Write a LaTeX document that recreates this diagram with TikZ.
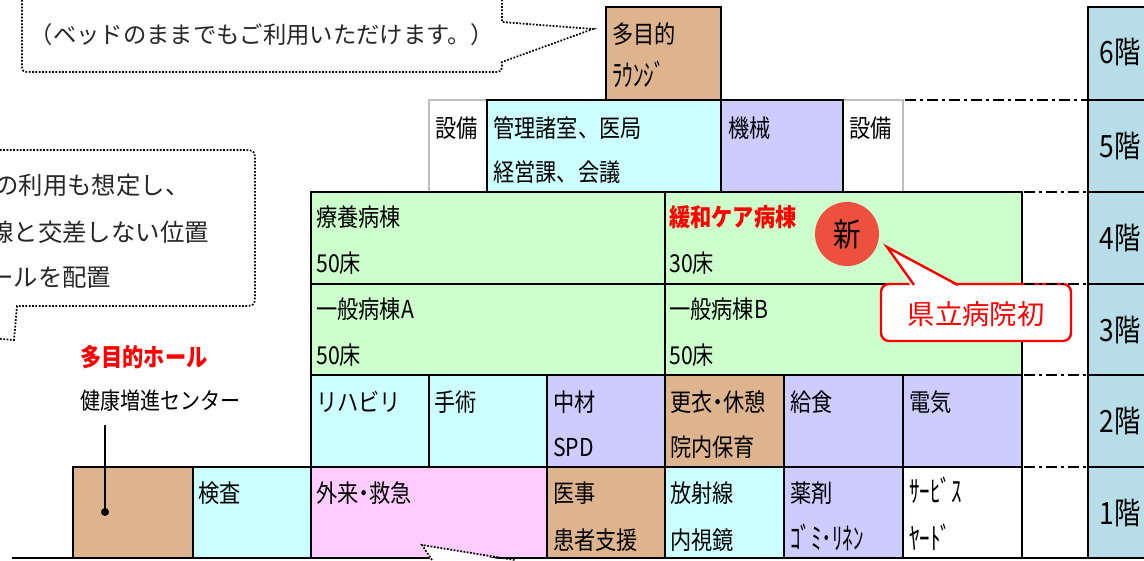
\documentclass[tikz,border=0pt]{standalone}
\usepackage{fontspec}
\newfontfamily\jp[FakeStretch=0.86]{Noto Sans CJK JP}
\newfontfamily\jph[FakeStretch=0.7]{Noto Sans CJK JP}
\newfontfamily\jpn{Noto Sans CJK JP}
\definecolor{tanc}{HTML}{DDB48E}
\definecolor{cyc}{HTML}{CCFFFF}
\definecolor{lavc}{HTML}{CCCCFF}
\definecolor{grnc}{HTML}{CCFFCC}
\definecolor{pnkc}{HTML}{FFCCFF}
\definecolor{flrc}{HTML}{B7DEE8}
\definecolor{newred}{HTML}{EE5040}
\definecolor{gryc}{HTML}{BFBFBF}
\newcommand\ndot{\hspace{-0.22em}・\hspace{-0.22em}}
\begin{document}
\begin{tikzpicture}[x=0.75pt,y=-0.75pt,
  cellline/.style={draw=black,line width=1.8pt},
  lbl/.style={anchor=base west,inner sep=0pt,font=\jp\fontsize{18.5}{20}\selectfont},
  hlbl/.style={anchor=base west,inner sep=0pt,font=\jph\fontsize{22.5}{24}\selectfont},
  redlbl/.style={lbl,text=red,font=\jp\bfseries\fontsize{18.5}{20}\selectfont},
  floorlbl/.style={anchor=base,inner sep=0pt,font=\jp\fontsize{23}{24}\selectfont},
  dashdot/.style={line width=1.8pt,dash pattern=on 8pt off 3pt on 2.5pt off 3pt},
  dots/.style={line width=1.3pt,dash pattern=on 1.3pt off 1.2pt},
  callt/.style={anchor=west,inner sep=0pt,font=\jpn\fontsize{18.3}{20}\selectfont,text=black!85}]
\useasboundingbox (0,0) rectangle (1144,560);
\clip (0,0) rectangle (1144,560);

% ---------- floor label column ----------
\foreach \ya/\yb in {7/100,100/192,192/284,284/375,375/467,467/558}
  \filldraw[cellline,fill=flrc] (1088,\ya) rectangle (1170,\yb);
\node[floorlbl] (f6) at (1120,64) {6階};
\node[floorlbl] (f5) at (1120,157) {5階};
\node[floorlbl] (f4) at (1120,249) {4階};
\node[floorlbl] (f3) at (1120,341) {3階};
\node[floorlbl] (f2) at (1120,432) {2階};
\node[floorlbl] (f1) at (1120,524) {1階};

% ---------- 6F ----------
\filldraw[cellline,fill=tanc] (606,7) rectangle (721,100);
\node[lbl] (l6a) at (612,44) {多目的};
\node[hlbl] (l6b) at (612,86) {ﾗｳﾝｼﾞ};

% ---------- 5F ----------
\draw[gryc,line width=1.6pt] (429,192) -- (429,100) -- (487,100);
\draw[gryc,line width=1.6pt] (843,100) -- (903,100) -- (903,192);
\filldraw[cellline,fill=cyc] (487,100) rectangle (721,192);
\filldraw[cellline,fill=lavc] (721,100) rectangle (843,192);
\node[lbl] (l5a) at (435,137) {設備};
\node[lbl] (l5b) at (493,137) {管理諸室、医局};
\node[lbl] (l5c) at (493,181) {経営課、会議};
\node[lbl] (l5d) at (728,137) {機械};
\node[lbl] (l5e) at (849,137) {設備};

% ---------- 4F / 3F ----------
\filldraw[cellline,fill=grnc] (311,192) rectangle (665,284);
\filldraw[cellline,fill=grnc] (665,192) rectangle (1022,284);
\filldraw[cellline,fill=grnc] (311,284) rectangle (665,375);
\filldraw[cellline,fill=grnc] (665,284) rectangle (1022,375);
\node[lbl] (l4a) at (316,226) {療養病棟};
\node[lbl] (l4b) at (316,272) {50床};
\node[redlbl] (l4c) at (669,226) {緩和ケア病棟};
\node[lbl] (l4d) at (669,272) {30床};
\node[lbl] (l3a) at (316,318) {一般病棟A};
\node[lbl] (l3b) at (316,364) {50床};
\node[lbl] (l3c) at (669,318) {一般病棟B};
\node[lbl] (l3d) at (669,364) {50床};

% ---------- 2F ----------
\filldraw[cellline,fill=cyc]  (311,375) rectangle (429,467);
\filldraw[cellline,fill=cyc]  (429,375) rectangle (547,467);
\filldraw[cellline,fill=lavc] (547,375) rectangle (665,467);
\filldraw[cellline,fill=tanc] (665,375) rectangle (784,467);
\filldraw[cellline,fill=lavc] (784,375) rectangle (903,467);
\filldraw[cellline,fill=lavc] (903,375) rectangle (1022,467);
\node[lbl] (l2a) at (316,411) {リハビリ};
\node[lbl] (l2b) at (434,411) {手術};
\node[lbl] (l2c) at (553,411) {中材};
\node[lbl] (l2d) at (553,456) {SPD};
\node[lbl] (l2e) at (670,411) {更衣\ndot 休憩};
\node[lbl] (l2f) at (670,456) {院内保育};
\node[lbl] (l2g) at (790,411) {給食};
\node[lbl] (l2h) at (909,411) {電気};

% ---------- 1F ----------
\filldraw[cellline,fill=tanc] (73,467) rectangle (193,558);
\filldraw[cellline,fill=cyc]  (193,467) rectangle (311,558);
\filldraw[cellline,fill=pnkc] (311,467) rectangle (547,558);
\filldraw[cellline,fill=tanc] (547,467) rectangle (665,558);
\filldraw[cellline,fill=cyc]  (665,467) rectangle (784,558);
\filldraw[cellline,fill=lavc] (784,467) rectangle (903,558);
\filldraw[cellline,fill=white] (903,467) rectangle (1022,558);
\draw[cellline] (1022,375) -- (1022,558);
\node[lbl] (l1a) at (198,502) {検査};
\node[lbl] (l1b) at (316,502) {外来\ndot 救急};
\node[lbl] (l1c) at (553,502) {医事};
\node[lbl] (l1d) at (553,549) {患者支援};
\node[lbl] (l1e) at (670,502) {放射線};
\node[lbl] (l1f) at (670,549) {内視鏡};
\node[lbl] (l1g) at (790,502) {薬剤};
\node[hlbl] (l1h) at (790,549) {ｺﾞﾐ･ﾘﾈﾝ};
\node[hlbl] (l1i) at (909,502) {ｻｰﾋﾞｽ};
\node[hlbl] (l1j) at (909,549) {ﾔｰﾄﾞ};

% ground line
\draw[line width=2.2pt] (12,558) -- (1144,558);

% ---------- 新 and callout ----------
\node[circle,fill=newred,minimum size=48pt,inner sep=0pt,font=\jp\fontsize{24}{26}\selectfont] (new) at (847,234) {新};
\draw[red,line width=1.8pt,fill=white,rounded corners=6pt] (881,284) rectangle (1071,341);
\node[inner sep=0pt,text=red,font=\jpn\fontsize{20.5}{22}\selectfont] (kenritsu) at (976,314) {県立病院初};
\fill[white] (912,288) -- (887,247) -- (960,288) -- cycle;
\draw[red,line width=1.8pt,line join=miter] (914,285) -- (887,247) -- (958,285);

% dash-dot floor lines
\draw[dashdot] (905,100) -- (1088,100);
\foreach \yy in {192,284,375,467}
  \draw[dashdot] (1024,\yy) -- (1088,\yy);

% ---------- hall label ----------
\node[redlbl] (hall) at (80,366) {多目的ホール};
\node[anchor=base west,inner sep=0pt,font=\jp\fontsize{17.5}{20}\selectfont] (kenko) at (80,409) {健康増進センター};
\node[circle,fill=black,minimum size=6pt,inner sep=0pt] (hdot) at (105,512) {};
\coordinate (htop) at (105,425);
\draw[line width=1.1pt] (hdot.center) -- (htop);

% ---------- dotted callouts ----------
\draw[dots] (22,-20) -- (22,62) .. controls (22,72) .. (32,72) -- (492,72)
  .. controls (502,72) .. (502,62) -- (593,29) -- (502,22) -- (502,-20);
\node[anchor=center,inner sep=0pt,font=\jpn\fontsize{17.5}{20}\selectfont,text=black!85] (t1) at (262,35) {（ベッドのままでもご利用いただけます。）};

\draw[dots] (-10,338) -- (14,340) -- (17,306) -- (241,306) .. controls (255,306) .. (255,292)
  -- (255,164) .. controls (255,150) .. (241,150) -- (-10,150);
\node[callt] (c1) at (-6,185) {の利用も想定し、};
\node[callt] (c2) at (-11,232) {線と交差しない位置};
\node[callt] (c3) at (-11,278) {ールを配置};

% bottom pointer
\fill[white] (432,562) -- (422,545) -- (515,562) -- cycle;
\draw[dots] (432,560) -- (422,545) -- (515,560);
\end{tikzpicture}
\end{document}
